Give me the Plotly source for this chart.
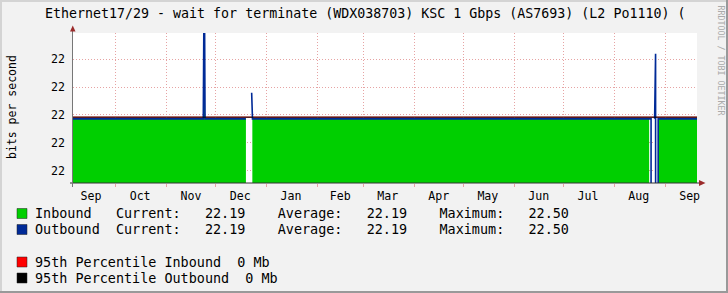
import plotly.graph_objects as go

# ---------------- data ----------------
title_text = "Ethernet17/29 - wait for terminate (WDX038703) KSC 1 Gbps (AS7693) (L2 Po1110) ("
y_title = "bits per second"
watermark = "RRDTOOL / TOBI OETIKER"

x_start = "2022-09-05 02:00"
x_end = "2023-09-20 12:00"

month_labels = ["Sep", "Oct", "Nov", "Dec", "Jan", "Feb", "Mar", "Apr", "May", "Jun", "Jul", "Aug", "Sep"]
month_label_dates = ["2022-09-16", "2022-10-16", "2022-11-16", "2022-12-16", "2023-01-16", "2023-02-15",
                     "2023-03-16", "2023-04-16", "2023-05-16", "2023-06-16", "2023-07-16", "2023-08-16",
                     "2023-09-16"]
month_starts = ["2022-10-01", "2022-11-01", "2022-12-01", "2023-01-01", "2023-02-01", "2023-03-01",
                "2023-04-01", "2023-05-01", "2023-06-01", "2023-07-01", "2023-08-01", "2023-09-01"]

y_ticks = [22.0, 22.1, 22.2, 22.3, 22.4]

in_dates = ["2022-09-05 02:00", "2022-11-23 12:00", "2022-11-23 20:00", "2022-11-24 08:00",
            "2022-11-24 14:00", "2022-12-19 12:00", "2022-12-20 00:00", "2022-12-23 10:00",
            "2023-08-22 08:00", "2023-08-22 12:00", "2023-08-27 20:00", "2023-09-20 12:00"]
in_values = [22.186, 22.186, 22.50, 22.50,
             22.186, 22.186, None, 22.186,
             22.186, None, 22.186, 22.186]

out_dates = ["2022-09-05 02:00", "2022-11-23 12:00", "2022-11-23 20:00", "2022-11-24 08:00",
             "2022-11-24 14:00", "2022-12-19 12:00", "2022-12-20 00:00", "2022-12-23 00:00",
             "2022-12-23 12:00", "2023-08-23 12:00", "2023-08-23 22:00", "2023-08-24 12:00",
             "2023-08-25 16:00", "2023-08-25 20:00", "2023-08-26 06:00", "2023-08-27 06:00",
             "2023-08-27 12:00", "2023-08-27 20:00", "2023-09-20 12:00"]
out_values = [22.186, 22.186, 22.50, 22.50,
              22.186, 22.186, None, 22.28,
              22.186, 22.186, 0.0, None,
              22.186, 22.42, 22.42, 0.0,
              0.0, 22.186, 22.186]

p95_in = 22.192
p95_out = 22.192

in_current, in_average, in_maximum = 22.19, 22.19, 22.50
out_current, out_average, out_maximum = 22.19, 22.19, 22.50
p95_in_label, p95_out_label = "0 Mb", "0 Mb"

# ---------------- layout geometry ----------------
W, H = 728, 293
PL, PR, PT, PB = 73, 697, 33, 183


def px(x):
    return (x - PL) / (PR - PL)


def py(y):
    return (PB - y) / (PB - PT)


MONO = "DejaVu Sans Mono"
GREEN = "#00CF00"
BLUE = "#002A97"
GRID = "#E6A3A3"


def segments(xs, ys):
    seg_x, seg_y = [], []
    for xv, yv in zip(xs, ys):
        if yv is None:
            if seg_x:
                yield seg_x, seg_y
            seg_x, seg_y = [], []
        else:
            seg_x.append(xv)
            seg_y.append(yv)
    if seg_x:
        yield seg_x, seg_y


fig = go.Figure()
for sx, sy in segments(in_dates, in_values):
    fig.add_trace(go.Scatter(x=sx, y=sy, mode="lines", fill="tozeroy",
                             fillcolor=GREEN, line=dict(color=GREEN, width=0),
                             hoverinfo="skip", showlegend=False))
fig.add_trace(go.Scatter(x=out_dates, y=out_values, mode="lines",
                         line=dict(color=BLUE, width=1.6),
                         connectgaps=False, hoverinfo="skip", showlegend=False))

fig.add_hline(y=p95_in, line=dict(color="#FF0000", width=1), layer="below")
fig.add_hline(y=p95_out, line=dict(color="#000000", width=1))

fig.update_layout(
    width=W, height=H,
    margin=dict(l=PL, r=W - PR, t=PT, b=H - PB, pad=0),
    paper_bgcolor="#F2F2F2", plot_bgcolor="#FFFFFF",
    showlegend=False,
    font=dict(family=MONO, color="#000000"),
)

fig.update_xaxes(
    type="date", range=[x_start, x_end],
    tickmode="array", tickvals=month_label_dates, ticktext=month_labels,
    ticks="", showgrid=False, showline=False, zeroline=False,
    tickfont=dict(family=MONO, size=11.6, color="#000000"),
    ticklabelstandoff=4,
    minor=dict(tickmode="array", tickvals=month_starts, showgrid=True, gridcolor=GRID,
               griddash="1px,2px", gridwidth=1, ticks="outside", ticklen=3, tickcolor=GRID),
)
fig.update_yaxes(
    range=[21.955, 22.495],
    tickmode="array", tickvals=y_ticks, tickformat=".0f",
    ticks="", showgrid=True, gridcolor=GRID, griddash="1px,2px", gridwidth=1,
    showline=False, zeroline=False,
    tickfont=dict(family=MONO, size=11.6, color="#000000"),
    ticklabelstandoff=7,
)

shapes = list(fig.layout.shapes)
shapes.append(dict(type="line", xref="paper", yref="paper", x0=px(70), x1=px(700), y0=0, y1=0,
                   line=dict(color="#333333", width=1)))
shapes.append(dict(type="line", xref="paper", yref="paper", x0=px(72.5), x1=px(72.5), y0=py(187), y1=py(30),
                   line=dict(color="#777777", width=1)))
shapes.append(dict(type="path", xref="paper", yref="paper",
                   path=f"M {px(70)} {py(31.5)} L {px(75.5)} {py(31.5)} L {px(72.75)} {py(25.5)} Z",
                   fillcolor="#9B2B2B", line=dict(width=0)))
shapes.append(dict(type="path", xref="paper", yref="paper",
                   path=f"M {px(699)} {py(180)} L {px(699)} {py(186)} L {px(705.5)} {py(183)} Z",
                   fillcolor="#9B2B2B", line=dict(width=0)))
shapes.append(dict(type="rect", xref="paper", yref="paper", x0=px(0), x1=px(728), y0=py(293), y1=py(291),
                   fillcolor="#999999", line=dict(width=0)))
shapes.append(dict(type="rect", xref="paper", yref="paper", x0=px(726), x1=px(728), y0=py(293), y1=py(0),
                   fillcolor="#999999", line=dict(width=0)))
shapes.append(dict(type="rect", xref="paper", yref="paper", x0=px(0), x1=px(2), y0=py(291), y1=py(0),
                   fillcolor="#D4D4D4", line=dict(width=0)))
shapes.append(dict(type="rect", xref="paper", yref="paper", x0=px(0), x1=px(726), y0=py(2), y1=py(0),
                   fillcolor="#D4D4D4", line=dict(width=0)))

swatches = [(GREEN, 208.5), (BLUE, 224.5), ("#FF0000", 257), ("#000000", 273)]
for col, top in swatches:
    shapes.append(dict(type="rect", xref="paper", yref="paper", x0=px(17), x1=px(27), y0=py(top + 10), y1=py(top),
                       fillcolor=col, line=dict(color="#222222", width=0.5)))

fig.update_layout(shapes=shapes)

NB = "\u00a0"


def row(*parts):
    return "".join(parts).replace(" ", NB)


leg_rows = [
    (row("Inbound   Current:   ", f"{in_current:.2f}", "    Average:   ", f"{in_average:.2f}",
         "    Maximum:   ", f"{in_maximum:.2f}"), 213.5),
    (row("Outbound  Current:   ", f"{out_current:.2f}", "    Average:   ", f"{out_average:.2f}",
         "    Maximum:   ", f"{out_maximum:.2f}"), 229.5),
    (row("95th Percentile Inbound  ", p95_in_label), 262),
    (row("95th Percentile Outbound  ", p95_out_label), 278),
]

ann = []
ann.append(dict(text=title_text.replace(" ", NB), xref="paper", yref="paper", x=px(364.5), y=py(14),
                xanchor="center", yanchor="middle", showarrow=False,
                font=dict(family=MONO, size=13.3, color="#000000")))
ann.append(dict(text=y_title.replace(" ", NB), xref="paper", yref="paper", x=px(11.5), y=py(107.5),
                xanchor="center", yanchor="middle", showarrow=False, textangle=-90,
                font=dict(family=MONO, size=11.5, color="#000000")))
ann.append(dict(text=watermark.replace(" ", NB), xref="paper", yref="paper", x=px(720.5), y=py(60),
                xanchor="center", yanchor="middle", showarrow=False, textangle=90,
                font=dict(family=MONO, size=8.3, color="#AAAAAA")))
for txt, yc in leg_rows:
    ann.append(dict(text=txt, xref="paper", yref="paper", x=px(33), y=py(yc),
                    xanchor="left", yanchor="middle", showarrow=False,
                    font=dict(family=MONO, size=13.45, color="#000000")))
fig.update_layout(annotations=ann)

fig.write_html("out.html")
